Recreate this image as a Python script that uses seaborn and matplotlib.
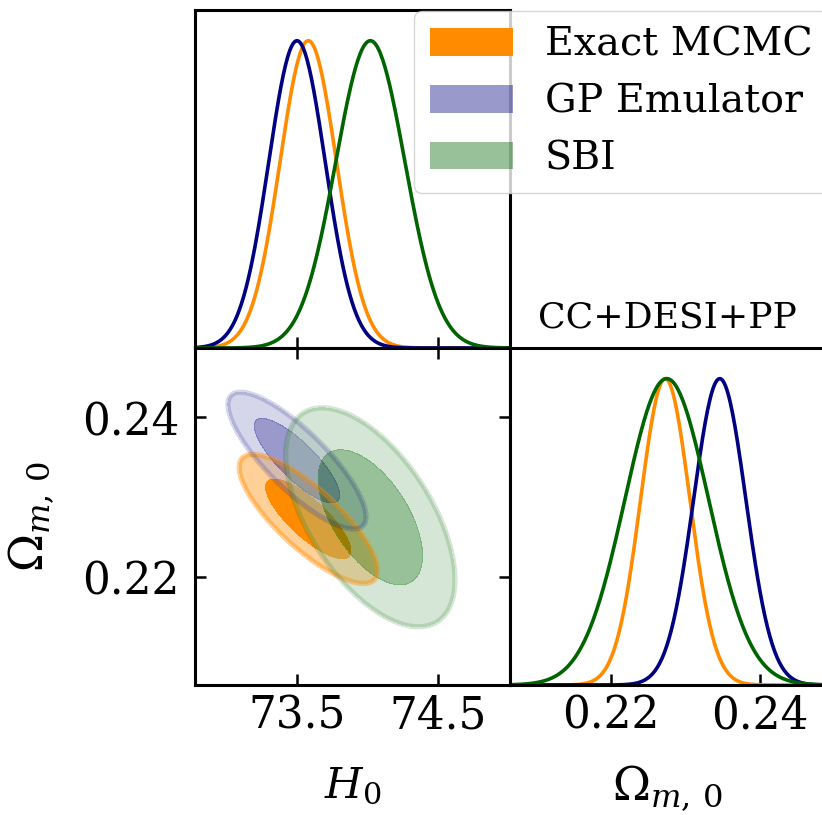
import numpy as np
import pandas as pd
import matplotlib
matplotlib.use("Agg")
import matplotlib.pyplot as plt
from matplotlib.patches import Patch
from matplotlib.colors import to_rgb
import seaborn as sns

# posterior summaries
labels = ["Exact MCMC", "GP Emulator", "SBI"]
colors = ["darkorange", "navy", "darkgreen"]
alphas = [1.0, 0.4, 0.4]
h0_mean = [73.58, 73.50, 74.02]
h0_std = [0.2, 0.2, 0.245]
om_mean = [0.2273, 0.2346, 0.2275]
om_std = [0.0033, 0.0035, 0.0056]
corr = [-0.8, -0.82, -0.57]

h0_ticks = [73.5, 74.5]
om_ticks = [0.22, 0.24]
h0_lim = (72.777, 75.01)
om_lim = (0.2065, 0.2487)
dataset_label = "CC+DESI+PP"

sns.set_style("ticks")
plt.rcParams["font.family"] = ["DejaVu Serif"]
plt.rcParams["mathtext.fontset"] = "dejavuserif"
for k in ("text.color", "axes.labelcolor", "xtick.color", "ytick.color",
          "axes.edgecolor"):
    plt.rcParams[k] = "black"

W, H = 822, 815
fig = plt.figure(figsize=(W / 100, H / 100), dpi=100)
ax_h = fig.add_axes([195 / W, 1 - 348 / H, 315 / W, 338 / H])
ax_2d = fig.add_axes([195 / W, 1 - 685 / H, 315 / W, 337 / H])
ax_o = fig.add_axes([510 / W, 1 - 685 / H, 315 / W, 337 / H])

# density grid
hg = np.linspace(72.0, 76.0, 500)
og = np.linspace(0.19, 0.27, 500)
HH, OO = np.meshgrid(hg, og)


def density(i):
    zx = (HH - h0_mean[i]) / h0_std[i]
    zy = (OO - om_mean[i]) / om_std[i]
    r = corr[i]
    q = (zx ** 2 - 2 * r * zx * zy + zy ** 2) / (1 - r ** 2)
    return np.exp(-0.5 * q)


def mass_levels(p, fracs=(0.95, 0.68)):
    s = np.sort(p.ravel())[::-1]
    c = np.cumsum(s) / s.sum()
    return [s[np.searchsorted(c, f)] for f in fracs]


for i, lab in enumerate(labels):
    p = density(i)
    c = np.array(to_rgb(colors[i]))
    pale = c + (1 - c) * 0.6
    l95, l68 = mass_levels(p)
    ax_2d.contourf(HH, OO, p, levels=[l95, l68, p.max() * 1.01],
                   colors=[pale, c], alpha=alphas[i])
    ax_2d.contour(HH, OO, p, levels=[l95], colors=[c],
                  linewidths=3.8, alpha=0.4 * alphas[i])

    mh = p.sum(axis=0)
    mo = p.sum(axis=1)
    df_h = pd.DataFrame({"x": hg, "y": mh / mh.max()})
    df_o = pd.DataFrame({"x": og, "y": mo / mo.max()})
    sns.lineplot(data=df_h, x="x", y="y", ax=ax_h, color=colors[i], lw=2.6)
    sns.lineplot(data=df_o, x="x", y="y", ax=ax_o, color=colors[i], lw=2.6)

tick_fs = 31.5
for ax in (ax_h, ax_2d, ax_o):
    for sp in ax.spines.values():
        sp.set_linewidth(2.2)
        sp.set_color("black")
        sp.set_visible(True)
    ax.set_xlabel("")
    ax.set_ylabel("")

ax_h.set_xlim(h0_lim)
ax_h.set_ylim(0, 1.1)
ax_h.set_xticks(h0_ticks)
ax_h.set_yticks([])
ax_h.tick_params(axis="x", direction="in", length=8, width=1.8, labelbottom=False)

ax_2d.set_xlim(h0_lim)
ax_2d.set_ylim(om_lim)
ax_2d.set_xticks(h0_ticks)
ax_2d.set_yticks(om_ticks)
ax_2d.set_xticklabels([f"{t:.1f}" for t in h0_ticks])
ax_2d.set_yticklabels([f"{t:.2f}" for t in om_ticks])
ax_2d.tick_params(direction="in", top=True, right=True, length=8, width=1.8,
                  labelsize=tick_fs)
ax_2d.tick_params(axis="x", pad=7)
ax_2d.tick_params(axis="y", pad=11)
ax_2d.set_xlabel(r"$H_0$", fontsize=31)
ax_2d.set_ylabel(r"$\Omega_{m,\,0}$", fontsize=33)
ax_2d.xaxis.set_label_coords(0.5, -0.235)
ax_2d.yaxis.set_label_coords(-0.44, 0.5)

ax_o.set_xlim(om_lim)
ax_o.set_ylim(0, 1.1)
ax_o.set_xticks(om_ticks)
ax_o.set_xticklabels([f"{t:.2f}" for t in om_ticks])
ax_o.set_yticks([])
ax_o.tick_params(axis="x", direction="in", length=8, width=1.8,
                 labelsize=tick_fs, pad=7)
ax_o.set_xlabel(r"$\Omega_{m,\,0}$", fontsize=33)
ax_o.xaxis.set_label_coords(0.5, -0.235)

fig.text(667 / W, 1 - 317 / H, dataset_label, ha="center", va="center",
         fontsize=26)

handles = [Patch(facecolor=colors[i], alpha=alphas[i], edgecolor="none")
           for i in range(len(labels))]
fig.legend(handles, labels, loc="upper left",
           bbox_to_anchor=(414 / W, 1 - 11 / H), borderaxespad=0,
           fontsize=28.5, handlelength=2.1, frameon=True)

fig.savefig("out.png", dpi=100)
